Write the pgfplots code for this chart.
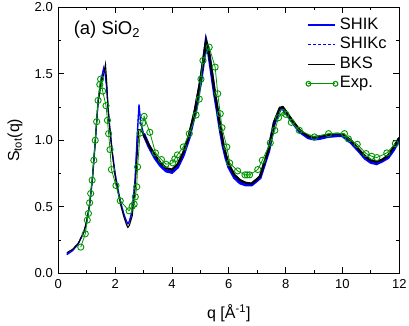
\documentclass[border=0pt]{standalone}
\usepackage{fontspec}
\setmainfont{Liberation Sans}
\usepackage{pgfplots}
\pgfplotsset{compat=1.18}
\usetikzlibrary{calc}
\definecolor{expgreen}{RGB}{0,150,0}
\definecolor{shikblue}{RGB}{0,0,255}

\begin{document}
\begin{tikzpicture}
\begin{axis}[
    name=ax,
    scale only axis,
    width=341pt, height=266pt,
    xmin=0, xmax=12, ymin=0, ymax=2,
    xtick={0,2,...,12}, ytick={0,0.5,...,2},
    minor x tick num=1, minor y tick num=1,
    tick align=inside,
    major tick length=6pt, minor tick length=3pt,
    axis line style={line width=0.8pt},
    every tick/.style={black, line width=0.8pt},
    /pgf/number format/assume math mode=true,
    y tick label style={/pgf/number format/.cd, fixed, fixed zerofill, precision=1, /tikz/.cd, xshift=-2pt},
    x tick label style={yshift=-3pt},
    tick label style={font=\fontsize{13}{13}\selectfont},
    xlabel={q [Å\textsuperscript{-1}]},
    ylabel={S\textsubscript{tot}(q)},
    every axis x label/.style={at={(axis description cs:0.5,-0.15)}, anchor=center, font=\fontsize{16}{16}\selectfont},
    every axis y label/.style={at={(axis description cs:-0.127,0.5)}, rotate=90, anchor=center, font=\fontsize{16}{16}\selectfont},
    legend image code/.code={\draw[mark repeat=2, mark phase=1] plot coordinates {(0pt,0pt) (13.5pt,0pt) (27pt,0pt)};},
    legend style={draw=none, fill=none, inner sep=0pt, at={(rel axis cs:0.726,0.967)}, anchor=north west,
        font=\fontsize{16.5}{16.5}\selectfont, row sep=1.5pt,
        nodes={inner sep=2pt, text height=11pt, text depth=3pt}},
    legend cell align=left,
]
\addlegendimage{draw=shikblue, line width=1.7pt}
\addlegendentry{SHIK}
\addlegendimage{draw=shikblue, dash pattern=on 3pt off 2pt, line width=1.1pt}
\addlegendentry{SHIKc}
\addlegendimage{black, line width=1.3pt}
\addlegendentry{BKS}
\addlegendimage{expgreen, line width=1.2pt, mark=o, mark size=2.4pt, mark options={line width=1.1pt}}
\addlegendentry{Exp.}
% SHIK
\addplot[shikblue, line width=1.3pt, forget plot] coordinates {
(0.3,0.14) (0.5,0.17) (0.7,0.22) (0.9,0.31) (1.0,0.39) (1.1,0.51) (1.2,0.70)
(1.3,0.98) (1.4,1.30) (1.5,1.45) (1.6,1.545) (1.65,1.50) (1.7,1.40) (1.75,1.25)
(1.8,1.12) (1.9,0.91) (2.0,0.75) (2.1,0.63) (2.2,0.53) (2.3,0.45) (2.4,0.39)
(2.45,0.375) (2.5,0.39) (2.6,0.47) (2.7,0.70) (2.78,1.05) (2.84,1.27) (2.9,1.13) (3.0,1.05)
};
\addplot[shikblue, line width=3.2pt, forget plot] coordinates {
(3.0,1.05) (3.2,0.95) (3.4,0.87) (3.6,0.81) (3.8,0.77) (4.0,0.76) (4.2,0.80)
(4.4,0.89) (4.6,1.02) (4.8,1.20) (5.0,1.43) (5.1,1.58) (5.2,1.74) (5.3,1.65)
(5.4,1.50) (5.5,1.35) (5.6,1.22) (5.7,1.08) (5.8,0.96) (5.9,0.87) (6.0,0.80)
(6.2,0.72) (6.4,0.68) (6.6,0.665) (6.8,0.665) (7.0,0.70) (7.1,0.72) (7.4,0.92)
(7.6,1.13) (7.8,1.235) (7.9,1.24) (8.0,1.21) (8.2,1.15) (8.5,1.065) (8.8,1.02)
(9.0,1.01) (9.2,1.015) (9.5,1.03) (9.8,1.035) (10.0,1.035) (10.3,0.985)
(10.6,0.915) (10.8,0.865) (11.0,0.835) (11.2,0.825) (11.4,0.845) (11.6,0.87)
(11.8,0.93) (12.0,1.01)
};
% SHIKc
\addplot[shikblue, dash pattern=on 3pt off 2pt, line width=1.0pt, forget plot] coordinates {
(0.3,0.145) (0.5,0.175) (0.7,0.225) (0.9,0.315) (1.0,0.395) (1.1,0.515) (1.2,0.705)
(1.3,0.985) (1.4,1.29) (1.5,1.44) (1.6,1.54) (1.65,1.50) (1.7,1.41) (1.75,1.25)
(1.8,1.12) (1.9,0.91) (2.0,0.75) (2.1,0.63) (2.2,0.53) (2.3,0.45) (2.4,0.385)
(2.45,0.37) (2.5,0.385) (2.6,0.47) (2.7,0.70) (2.78,1.04) (2.84,1.25) (2.9,1.12)
(3.0,1.05) (3.2,0.95) (3.4,0.875) (3.6,0.815) (3.8,0.775) (4.0,0.765) (4.2,0.805)
(4.4,0.895) (4.6,1.025) (4.8,1.20) (5.0,1.43) (5.1,1.58) (5.2,1.74) (5.3,1.655)
(5.4,1.51) (5.5,1.36) (5.6,1.225) (5.7,1.085) (5.8,0.965) (5.9,0.875) (6.0,0.805)
(6.2,0.725) (6.4,0.685) (6.6,0.67) (6.8,0.67) (7.0,0.705) (7.1,0.725) (7.4,0.925)
(7.6,1.135) (7.8,1.24) (7.9,1.245) (8.0,1.215) (8.2,1.155) (8.5,1.07) (8.8,1.025)
(9.0,1.015) (9.2,1.02) (9.5,1.035) (9.8,1.04) (10.0,1.04) (10.3,0.99)
(10.6,0.92) (10.8,0.87) (11.0,0.84) (11.2,0.83) (11.4,0.85) (11.6,0.875)
(11.8,0.935) (12.0,1.015)
};
% BKS
\addplot[black, line width=1.1pt, forget plot] coordinates {
(0.3,0.155) (0.5,0.18) (0.7,0.225) (0.9,0.31) (1.0,0.39) (1.1,0.52) (1.2,0.72)
(1.3,1.00) (1.4,1.28) (1.5,1.42) (1.6,1.50) (1.66,1.57) (1.7,1.45) (1.75,1.24)
(1.8,1.11) (1.9,0.90) (2.0,0.73) (2.1,0.61) (2.2,0.51) (2.3,0.43) (2.4,0.365)
(2.45,0.345) (2.5,0.36) (2.6,0.43) (2.7,0.63) (2.78,0.90) (2.83,1.08) (2.9,1.08) (3.0,1.04)
};
\addplot[black, line width=2.2pt, forget plot] coordinates {
(3.0,1.04) (3.2,0.96) (3.4,0.89) (3.6,0.83) (3.8,0.79) (4.0,0.78) (4.2,0.82)
(4.4,0.91) (4.6,1.04) (4.8,1.22) (5.0,1.45) (5.1,1.60) (5.2,1.75) (5.3,1.66)
(5.4,1.52) (5.5,1.37) (5.6,1.24) (5.7,1.10) (5.8,0.98) (5.9,0.89) (6.0,0.82)
(6.2,0.74) (6.4,0.70) (6.6,0.68) (6.8,0.675) (7.0,0.71) (7.1,0.73) (7.4,0.93)
(7.6,1.14) (7.8,1.245) (7.9,1.25) (8.0,1.22) (8.2,1.16) (8.5,1.075) (8.8,1.03)
(9.0,1.025) (9.2,1.03) (9.5,1.04) (9.8,1.05) (10.0,1.045) (10.3,1.00)
(10.6,0.925) (10.8,0.88) (11.0,0.85) (11.2,0.84) (11.4,0.855) (11.6,0.885)
(11.8,0.95) (12.0,1.02)
};
% Experiment
\addplot[expgreen, line width=0.8pt, mark=o, mark size=3.1pt, mark options={line width=0.9pt}, forget plot] coordinates {
(0.79,0.197) (0.95,0.297) (1.02,0.40) (1.06,0.45) (1.10,0.53) (1.14,0.60) (1.19,0.70)
(1.25,0.85) (1.30,1.00) (1.35,1.14) (1.40,1.30) (1.46,1.42) (1.49,1.46) (1.56,1.37)
(1.68,1.26) (1.73,1.15) (1.77,1.05) (1.82,0.93) (1.87,0.78) (2.03,0.66) (2.18,0.545)
(2.49,0.47) (2.60,0.505) (2.67,0.52) (2.71,0.575) (2.76,0.65) (2.79,0.80) (2.88,1.055)
(2.97,1.13) (3.02,1.18) (3.22,1.06) (3.42,0.905) (3.63,0.855) (3.79,0.82) (4.03,0.83)
(4.10,0.86) (4.19,0.89) (4.40,0.95) (4.61,1.05) (4.85,1.19) (4.96,1.31) (5.02,1.46)
(5.09,1.60) (5.31,1.70) (5.52,1.55) (5.61,1.35) (5.70,1.20) (5.76,1.095) (5.93,0.95)
(6.03,0.83) (6.31,0.77) (6.57,0.74) (6.65,0.74) (6.73,0.74) (7.02,0.78) (7.18,0.85)
(7.46,0.98) (7.62,1.075) (7.75,1.17) (7.89,1.21) (8.01,1.195) (8.20,1.135) (8.48,1.075)
(9.01,1.025) (9.51,1.05) (10.07,1.05) (10.21,1.01) (10.52,0.97) (10.83,0.90) (11.03,0.88)
(11.21,0.87) (11.56,0.905) (11.86,0.975)
};
\node[anchor=west, font=\fontsize{18.5}{18.5}\selectfont] at (rel axis cs:0.035,0.915) {(a) SiO\textsubscript{2}};
\end{axis}
\pgfresetboundingbox
\path[use as bounding box] ($(ax.south west)+(-58.3pt,-52pt)$) rectangle ($(ax.north east)+(9.7pt,7.3pt)$);
\end{tikzpicture}
\end{document}
